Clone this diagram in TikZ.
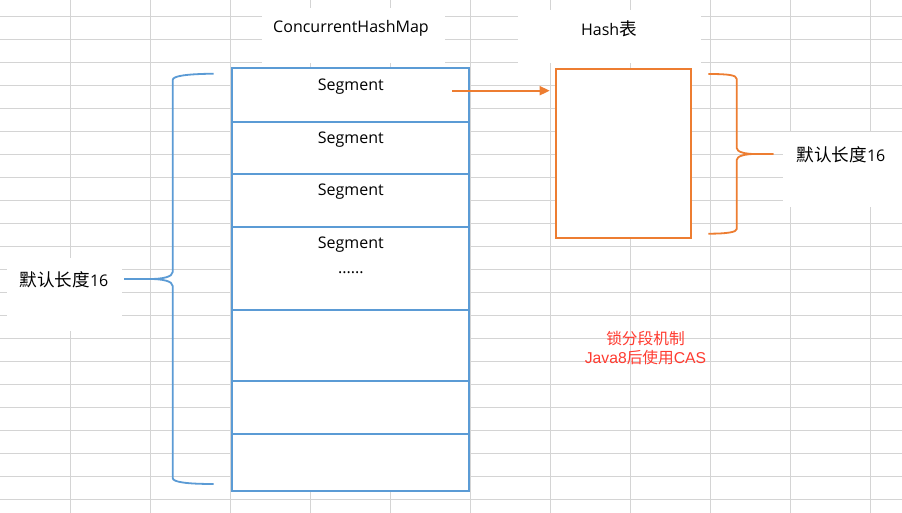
\documentclass[tikz,border=0pt]{standalone}
\usepackage{fontspec}
\setmainfont{Open Sans}
\newfontfamily\cjk{Noto Sans CJK SC}
\newfontfamily\arialf{Liberation Sans}
\usetikzlibrary{arrows.meta}
\definecolor{gridc}{HTML}{D4D4D4}
\definecolor{tblue}{HTML}{5B9BD5}
\definecolor{torange}{HTML}{ED7D31}
\definecolor{tred}{HTML}{FF3B30}
\newcommand{\lat}{\fontsize{16}{19}\selectfont}
\newcommand{\zh}[1]{{\fontsize{17.6}{20}\cjk #1}}
\tikzset{
  rowbox/.style={draw=tblue, fill=white, line width=2pt, minimum width=237pt, inner sep=0pt, outer sep=0pt, anchor=north west},
  segtxt/.style={inner sep=0pt, font=\lat},
  lbl/.style={inner sep=0pt, font=\lat},
  bluebrace/.style={draw=tblue, line width=1.8pt},
  orangebrace/.style={draw=torange, line width=1.8pt},
  harrow/.style={draw=torange, line width=1.8pt, -{Triangle[length=10pt,width=9pt]}},
  whitebox/.style={fill=white, draw=none},
}
\begin{document}
\begin{tikzpicture}[x=1pt,y=-1pt]
\useasboundingbox (0,0) rectangle (902,513);
\fill[white] (0,0) rectangle (902,513);
% grid
\foreach \k in {0,...,10} \draw[gridc, line width=1pt] (70.3+80*\k,0) -- (70.3+80*\k,513);
\foreach \k in {0,...,21} \draw[gridc, line width=1pt] (0,16.3+23*\k) -- (902,16.3+23*\k);
% white text boxes
\fill[whitebox] (262,8) rectangle (445,63);
\fill[whitebox] (518,10) rectangle (701,63);
\fill[whitebox] (783,132) rectangle (902,207);
\fill[whitebox] (7,258) rectangle (122,331);
% titles
\node[lbl] (chm) at (351,28) {ConcurrentHashMap};
\node[lbl] (hashtitle) at (609,29) {Hash\zh{表}};
% table rows
\node[rowbox, minimum height=53.5pt] (r1) at (232,68.5) {};
\node[rowbox, minimum height=51.7pt] (r2) at (r1.south west) {};
\node[rowbox, minimum height=53.3pt] (r3) at (r2.south west) {};
\node[rowbox, minimum height=83pt] (r4) at (r3.south west) {};
\node[rowbox, minimum height=71pt] (r5) at (r4.south west) {};
\node[rowbox, minimum height=52.7pt] (r6) at (r5.south west) {};
\node[rowbox, minimum height=57pt] (r7) at (r6.south west) {};
\draw[tblue, line width=2pt] (r1.north west) rectangle (r7.south east);
\foreach \r in {r1,r2,r3,r4,r5,r6} \draw[tblue, line width=2pt] (\r.south west) -- (\r.south east);
\node[segtxt] (s1) at (350.8,86.7) {Segment};
\node[segtxt] (s2) at (350.8,139.3) {Segment};
\node[segtxt] (s3) at (350.8,191.7) {Segment};
\node[segtxt] (s4) at (350.8,245) {Segment};
\node[segtxt, anchor=base] (dots) at (350.8,273.5) {......};
% hash table
\node[draw=torange, fill=white, line width=2pt, minimum width=135.3pt, minimum height=168.7pt, inner sep=0pt, outer sep=0pt, anchor=north west] (hash) at (555.7,69) {};
\coordinate (a0) at (452,90.7);
\draw[harrow, shorten >=6pt] (a0) -- (a0 -| hash.west);
% left brace
\coordinate (lbt) at (213.7,73.7);
\coordinate (lbm) at (124,279);
\coordinate (lbb) at (213.7,484);
\draw[bluebrace, line join=round] (lbt) .. controls (186,74) and (172.7,76) .. (172.7,80) -- (172.7,272)
  .. controls (172.7,277) and (162,279) .. (150,279) -- (lbm);
\draw[bluebrace, line join=round] (lbm) -- (150,279) .. controls (162,279) and (172.7,281) .. (172.7,286)
  -- (172.7,478) .. controls (172.7,482) and (186,484) .. (lbb);
% right brace
\coordinate (rbt) at (708.3,74);
\coordinate (rbm) at (773.3,154);
\coordinate (rbb) at (708.3,233.7);
\draw[orangebrace, line join=round] (rbt) .. controls (728,74) and (736.7,75) .. (736.7,79) -- (736.7,148)
  .. controls (736.7,152) and (745,154) .. (755,154) -- (rbm);
\draw[orangebrace, line join=round] (rbm) -- (755,154) .. controls (745,154) and (736.7,156) .. (736.7,160)
  -- (736.7,229) .. controls (736.7,232) and (728,233.7) .. (rbb);
% labels
\node[lbl] (llab) at (64,279.5) {\zh{默认长度}16};
\node[lbl] (rlab) at (841,155) {\zh{默认长度}16};
% note
\node[inner sep=0pt, align=center, text=tred, font={\fontsize{15.7}{19.3}\selectfont\arialf}] (note) at (645.5,348) {{\cjk 锁分段机制}\\Java8{\cjk 后使用}CAS};
\end{tikzpicture}
\end{document}
